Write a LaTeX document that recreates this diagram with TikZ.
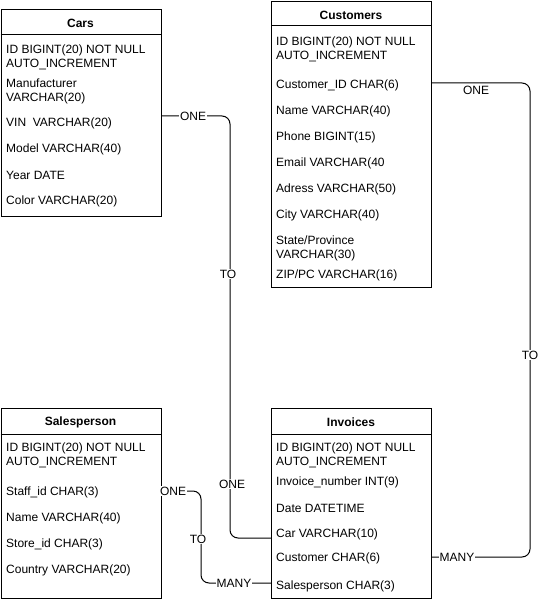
\documentclass[tikz,border=0pt]{standalone}
\usepackage{fontspec}
\setmainfont{Liberation Sans}
\usetikzlibrary{positioning,calc}
\tikzset{
  table/.style={draw,line width=1pt,anchor=north west,minimum width=160pt,inner sep=0pt},
  head/.style={font=\fontsize{12}{14}\bfseries},
  field/.style={anchor=west,align=left,inner sep=0pt},
  link/.style={line width=1pt,rounded corners=8pt},
  lbl/.style={fill=white,inner sep=1pt}
}
\begin{document}
\begin{tikzpicture}[x=1pt,y=-1pt,font=\fontsize{12}{14}\selectfont]
\useasboundingbox (0,0) rectangle (539,607);

% Cars
\node[table,minimum height=207pt] (cars) at (0.5,9) {};
\draw[line width=1pt] (0.5,35) -- (160.5,35);
\node[head] (cars-t) at (80.5,23.5) {Cars};
\node[field] (cars-id) at (6,57) {ID BIGINT(20) NOT NULL\\AUTO\_INCREMENT};
\node[field] (cars-man) at (6,91.5) {Manufacturer\\VARCHAR(20)};
\node[field] (cars-vin) at (6,123.5) {VIN\ \ VARCHAR(20)};
\node[field] (cars-mod) at (6,149.5) {Model VARCHAR(40)};
\node[field] (cars-year) at (6,175.5) {Year DATE};
\node[field] (cars-col) at (6,201.5) {Color VARCHAR(20)};

% Customers
\node[table,minimum height=286pt] (cust) at (271,1) {};
\draw[line width=1pt] (271,26) -- (431,26);
\node[head] (cust-t) at (351,15) {Customers};
\node[field] (cust-id) at (276,49) {ID BIGINT(20) NOT NULL\\AUTO\_INCREMENT};
\node[field] (cust-cid) at (276,85) {Customer\_ID CHAR(6)};
\node[field] (cust-name) at (276,111.5) {Name VARCHAR(40)};
\node[field] (cust-phone) at (276,137.5) {Phone BIGINT(15)};
\node[field] (cust-mail) at (276,163.5) {Email VARCHAR(40};
\node[field] (cust-adr) at (276,189.5) {Adress VARCHAR(50)};
\node[field] (cust-city) at (276,215.5) {City VARCHAR(40)};
\node[field] (cust-state) at (276,248.5) {State/Province\\VARCHAR(30)};
\node[field] (cust-zip) at (276,275.5) {ZIP/PC VARCHAR(16)};

% Salesperson
\node[table,minimum height=190pt] (sales) at (0.5,408) {};
\draw[line width=1pt] (0.5,434) -- (160.5,434);
\node[head] (sales-t) at (80.5,422.5) {Salesperson};
\node[field] (sales-id) at (6,455.5) {ID BIGINT(20) NOT NULL\\AUTO\_INCREMENT};
\node[field] (sales-staff) at (6,492) {Staff\_id CHAR(3)};
\node[field] (sales-name) at (6,518.5) {Name VARCHAR(40)};
\node[field] (sales-store) at (6,544.5) {Store\_id CHAR(3)};
\node[field] (sales-ctry) at (6,570.5) {Country VARCHAR(20)};

% Invoices
\node[table,minimum height=190pt] (inv) at (271,408) {};
\draw[line width=1pt] (271,434) -- (431,434);
\node[head] (inv-t) at (351,422.5) {Invoices};
\node[field] (inv-id) at (276,455.5) {ID BIGINT(20) NOT NULL\\AUTO\_INCREMENT};
\node[field] (inv-num) at (276,482.5) {Invoice\_number INT(9)};
\node[field] (inv-date) at (276,508.5) {Date DATETIME};
\node[field] (inv-car) at (276,534.5) {Car VARCHAR(10)};
\node[field] (inv-cust) at (276,558.5) {Customer CHAR(6)};
\node[field] (inv-sales) at (276,586) {Salesperson CHAR(3)};

% links
\coordinate (bend1) at (230,300);
\coordinate (bend2) at (530,300);
\coordinate (bend3) at (201,540);
\draw[link] ($(cars-vin.west -| cars.east)+(0,-7.5)$) -| (bend1) |- ($(inv-car.west -| inv.west)+(0,3.5)$);
\draw[link] ($(cust-cid.west -| cust.east)+(0,-2)$) -| (bend2) |- ($(inv-cust.west -| inv.east)+(0,-1.5)$);
\draw[link] ($(sales-staff.west -| sales.east)+(0,-1)$) -| (bend3) |- ($(inv-sales.west -| inv.west)+(0,-3)$);

\node[lbl] (one-car) at (193,116) {ONE};
\node[lbl] (to-car) at (228,274) {TO};
\node[lbl] (one-inv) at (232,484) {ONE};
\node[lbl] (one-cust) at (476,90) {ONE};
\node[lbl] (to-cust) at (530,355) {TO};
\node[lbl] (many-cust) at (457,557) {MANY};
\node[lbl] (one-sales) at (173,491) {ONE};
\node[lbl] (to-sales) at (198,539) {TO};
\node[lbl] (many-sales) at (234,583) {MANY};
\end{tikzpicture}
\end{document}
